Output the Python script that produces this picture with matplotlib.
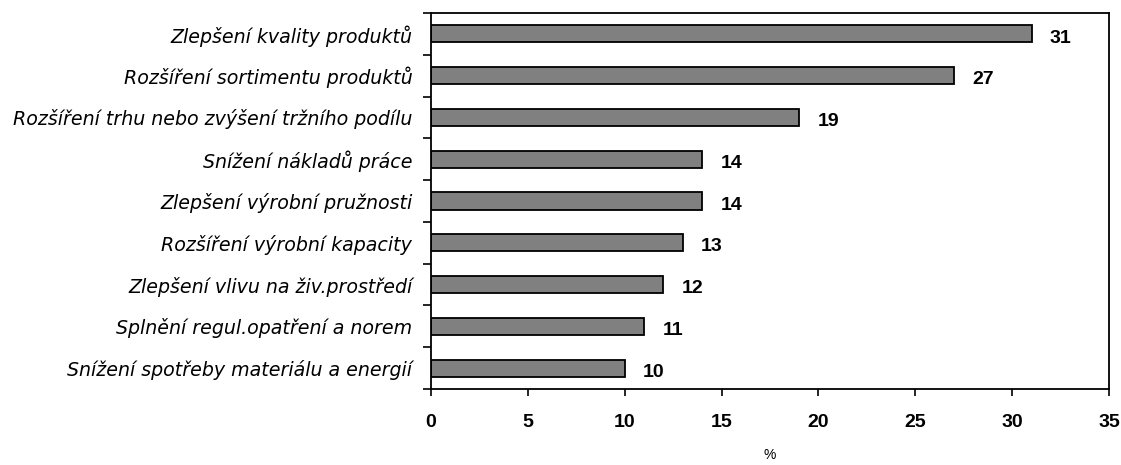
import matplotlib.pyplot as plt

plt.rcParams['font.family'] = ['Liberation Sans', 'DejaVu Sans']

categories = [
    'Zlepšení kvality produktů',
    'Rozšíření sortimentu produktů',
    'Rozšíření trhu nebo zvýšení tržního podílu',
    'Snížení nákladů práce',
    'Zlepšení výrobní pružnosti',
    'Rozšíření výrobní kapacity',
    'Zlepšení vlivu na živ.prostředí',
    'Splnění regul.opatření a norem',
    'Snížení spotřeby materiálu a energií',
]
values = [31, 27, 19, 14, 14, 13, 12, 11, 10]
xticks = [0, 5, 10, 15, 20, 25, 30, 35]

fig = plt.figure(figsize=(11.21, 4.65), dpi=100)
ax = fig.add_axes([431 / 1121, 1 - 389 / 465, 678 / 1121, 376 / 465])

pos = list(range(len(categories)))
ax.barh(pos, values, height=0.41, color='#808080', edgecolor='black', linewidth=1.3)

for p, v in zip(pos, values):
    ax.text(v + 0.95, p + 0.1, str(v), va='center', ha='left',
            fontsize=14, fontweight='bold')

ax.set_ylim(len(categories) - 0.5, -0.5)
ax.set_xlim(0, 35)
ax.set_yticks(pos)
ax.set_yticklabels(categories, fontsize=13.7, style='italic',
                   family=['DejaVu Sans'])
ax.set_yticks([p - 0.5 for p in pos] + [len(pos) - 0.5], minor=True)
ax.tick_params(axis='y', which='major', length=0, pad=13.5)
ax.tick_params(axis='y', which='minor', length=6, width=1.2, direction='out')
ax.set_xticks(xticks)
ax.set_xticklabels([str(t) for t in xticks], fontsize=14, fontweight='bold')
ax.tick_params(axis='x', length=5, width=1.2, direction='out', pad=13)
ax.set_xlabel('%', fontsize=10, labelpad=12)

for s in ax.spines.values():
    s.set_linewidth(1.3)

fig.savefig('out.png', dpi=100)
